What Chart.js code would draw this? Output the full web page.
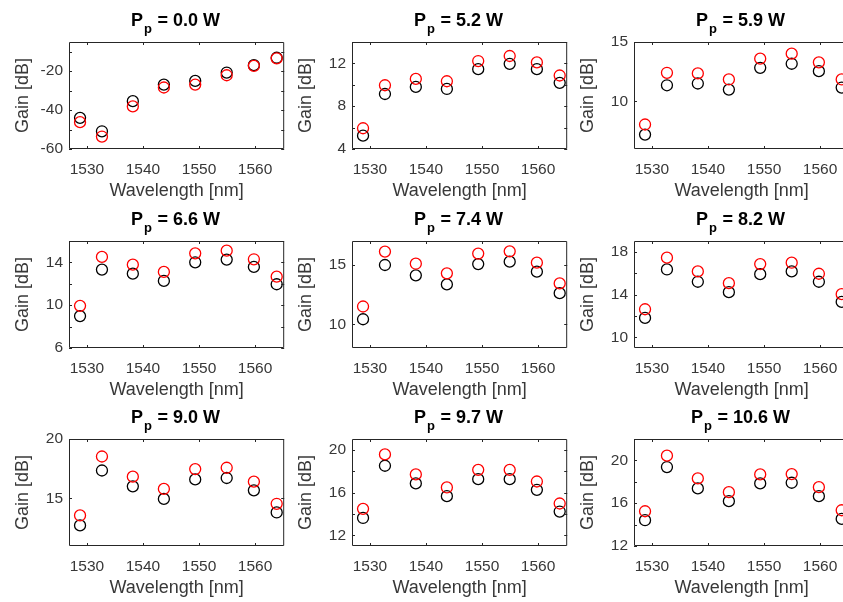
<!DOCTYPE html>
<html>
<head>
<meta charset="utf-8">
<script src="https://cdn.jsdelivr.net/npm/chart.js@4.4.1/dist/chart.umd.min.js"></script>
<style>
  html, body { margin: 0; padding: 0; background: #ffffff; }
  body { width: 843px; height: 602px; overflow: hidden; position: relative; }
  canvas { position: absolute; }
</style>
</head>
<body>
<script>
// ---------------- DATA ----------------
const wavelength = [1528.77, 1532.68, 1538.19, 1543.73, 1549.32, 1554.94, 1559.79, 1563.86];
const pumpPowers = ['0.0', '5.2', '5.9', '6.6', '7.4', '8.2', '9.0', '9.7', '10.6'];
const xTickValues = [1530, 1540, 1550, 1560];

const gainBlackP00 = [-44.0, -50.9, -35.4, -26.9, -25.0, -20.7, -16.9, -13.1];
const gainRedP00   = [-46.2, -53.6, -38.1, -28.4, -26.9, -22.1, -17.3, -13.4];
const gainBlackP52 = [5.25, 9.14, 9.80, 9.61, 11.46, 11.96, 11.46, 10.18];
const gainRedP52   = [5.94, 9.96, 10.55, 10.33, 12.22, 12.69, 12.09, 10.87];
const gainBlackP59 = [7.21, 11.36, 11.51, 11.00, 12.83, 13.17, 12.55, 11.17];
const gainRedP59   = [8.06, 12.41, 12.36, 11.85, 13.60, 14.02, 13.29, 11.85];
const gainBlackP66 = [8.98, 13.33, 12.95, 12.27, 14.01, 14.26, 13.58, 11.96];
const gainRedP66   = [9.94, 14.51, 13.79, 13.11, 14.85, 15.10, 14.29, 12.67];
const gainBlackP74 = [10.42, 14.98, 14.11, 13.35, 15.06, 15.26, 14.42, 12.61];
const gainRedP74   = [11.49, 16.11, 15.09, 14.28, 15.94, 16.13, 15.18, 13.43];
const gainBlackP82 = [11.81, 16.34, 15.19, 14.22, 15.90, 16.16, 15.19, 13.31];
const gainRedP82   = [12.62, 17.44, 16.16, 15.06, 16.84, 16.97, 15.94, 14.03];
const gainBlackP90 = [12.73, 17.35, 16.02, 14.96, 16.60, 16.72, 15.68, 13.82];
const gainRedP90   = [13.57, 18.53, 16.83, 15.80, 17.47, 17.58, 16.41, 14.55];
const gainBlackP97 = [13.62, 18.50, 16.85, 15.66, 17.25, 17.25, 16.25, 14.22];
const gainRedP97   = [14.47, 19.56, 17.69, 16.47, 18.12, 18.12, 17.03, 14.97];
const gainBlackP106 = [14.41, 19.38, 17.38, 16.19, 17.85, 17.91, 16.66, 14.53];
const gainRedP106   = [15.25, 20.44, 18.32, 17.03, 18.69, 18.72, 17.50, 15.34];

const blackSeries = [gainBlackP00, gainBlackP52, gainBlackP59, gainBlackP66, gainBlackP74, gainBlackP82, gainBlackP90, gainBlackP97, gainBlackP106];
const redSeries   = [gainRedP00, gainRedP52, gainRedP59, gainRedP66, gainRedP74, gainRedP82, gainRedP90, gainRedP97, gainRedP106];

const yMins = [-60, 4, 6, 6, 8, 9, 11, 11, 12];
const yMaxs = [-5, 14, 15, 16, 17, 19, 20, 21, 22];
const yTickValues = [
  [-60, -50, -40, -30, -20, -10],
  [4, 6, 8, 10, 12, 14],
  [10, 15],
  [6, 8, 10, 12, 14, 16],
  [10, 15],
  [10, 12, 14, 16, 18],
  [15, 20],
  [12, 14, 16, 18, 20],
  [12, 14, 16, 18, 20, 22]
];
const yTickLabels = [
  [-60, -40, -20],
  [4, 8, 12],
  [10, 15],
  [6, 10, 14],
  [10, 15],
  [10, 14, 18],
  [15, 20],
  [12, 16, 20],
  [12, 16, 20]
];
const xMin = 1526.8, xMax = 1565.2;
const xLabel = 'Wavelength [nm]';
const yLabel = 'Gain [dB]';

// ---------------- LAYOUT ----------------
const FONT = '"Liberation Sans", Arial, Helvetica, sans-serif';
const colLefts = [0, 283, 565];
const rowTops = [0, 199, 397];
const CW = 291, CH = 209;
const TEXT_COLOR = '#383838';
const AXIS_COLOR = '#262626';

const boxPlugin = {
  id: 'matlabBox',
  afterDatasetsDraw(chart) {
    const ctx = chart.ctx;
    const a = chart.chartArea;
    const xs = chart.scales.x, ys = chart.scales.y;
    ctx.save();
    ctx.strokeStyle = AXIS_COLOR;
    ctx.lineWidth = 1;
    ctx.beginPath();
    ctx.rect(a.left + 0.5, a.top + 0.5, a.right - a.left - 1, a.bottom - a.top - 1);
    ctx.stroke();
    const tl = 3;
    ctx.beginPath();
    xs.ticks.forEach(t => {
      const px = Math.round(xs.getPixelForValue(t.value)) + 0.5;
      ctx.moveTo(px, a.bottom); ctx.lineTo(px, a.bottom - tl);
      ctx.moveTo(px, a.top); ctx.lineTo(px, a.top + tl);
    });
    ys.ticks.forEach(t => {
      const py = Math.round(ys.getPixelForValue(t.value)) + 0.5;
      ctx.moveTo(a.left, py); ctx.lineTo(a.left + tl, py);
      ctx.moveTo(a.right, py); ctx.lineTo(a.right - tl, py);
    });
    ctx.stroke();
    ctx.restore();
  },
  afterDraw(chart) {
    const opts = chart.options.plugins.matlabBox;
    const ctx = chart.ctx;
    const a = chart.chartArea;
    const main = 'bold 18px ' + FONT;
    const sub = 'bold 13px ' + FONT;
    const t1 = 'P', t2 = 'p', t3 = ' = ' + opts.power + ' W';
    ctx.save();
    ctx.fillStyle = '#000000';
    ctx.textBaseline = 'alphabetic';
    ctx.textAlign = 'left';
    ctx.font = main;
    const w1 = ctx.measureText(t1).width;
    const w3 = ctx.measureText(t3).width;
    ctx.font = sub;
    const w2 = ctx.measureText(t2).width + 1.5;
    const total = w1 + w2 + w3;
    let x = (a.left + a.right) / 2 - total / 2 - 1;
    const base = 26;
    ctx.font = main;
    ctx.fillText(t1, x, base);
    x += w1 + 1;
    ctx.font = sub;
    ctx.fillText(t2, x, base + 7);
    x += w2 - 1;
    ctx.font = main;
    ctx.fillText(t3, x, base);
    ctx.restore();
  }
};

for (let i = 0; i < 9; i++) {
  const r = Math.floor(i / 3), c = i % 3;
  const cv = document.createElement('canvas');
  cv.width = CW; cv.height = CH;
  cv.style.left = colLefts[c] + 'px';
  cv.style.top = rowTops[r] + 'px';
  cv.style.width = CW + 'px';
  cv.style.height = CH + 'px';
  document.body.appendChild(cv);

  const toPts = arr => arr.map((g, k) => ({ x: wavelength[k], y: g }));

  new Chart(cv.getContext('2d'), {
    type: 'scatter',
    data: {
      datasets: [
        {
          label: 'red',
          data: toPts(redSeries[i]),
          borderColor: '#ff0000',
          backgroundColor: 'rgba(0,0,0,0)',
          pointStyle: 'circle',
          pointRadius: 5.5,
          pointBorderWidth: 1.3,
          pointHoverRadius: 5.5,
          showLine: false,
          order: 0
        },
        {
          label: 'black',
          data: toPts(blackSeries[i]),
          borderColor: '#000000',
          backgroundColor: 'rgba(0,0,0,0)',
          pointStyle: 'circle',
          pointRadius: 5.5,
          pointBorderWidth: 1.3,
          pointHoverRadius: 5.5,
          showLine: false,
          order: 1
        }
      ]
    },
    options: {
      responsive: false,
      animation: false,
      devicePixelRatio: 1,
      layout: { padding: { left: 0, right: 6, top: 42, bottom: 0 } },
      plugins: {
        legend: { display: false },
        tooltip: { enabled: false },
        title: { display: false },
        matlabBox: { power: pumpPowers[i] }
      },
      scales: {
        x: {
          type: 'linear',
          min: xMin, max: xMax,
          grid: { display: false, drawTicks: false },
          border: { display: false },
          afterBuildTicks: s => { s.ticks = xTickValues.map(v => ({ value: v })); },
          afterFit: s => { s.height = 60; },
          ticks: {
            autoSkip: false, maxRotation: 0, minRotation: 0,
            padding: 11,
            color: TEXT_COLOR,
            font: { family: FONT, size: 15.5 },
            callback: v => String(v)
          },
          title: {
            display: true, text: xLabel, color: TEXT_COLOR,
            font: { family: FONT, size: 18 },
            padding: { top: 0, bottom: 7 }
          }
        },
        y: {
          type: 'linear',
          min: yMins[i], max: yMaxs[i],
          grid: { display: false, drawTicks: false },
          border: { display: false },
          afterBuildTicks: s => { s.ticks = yTickValues[i].map(v => ({ value: v })); },
          afterFit: s => { s.width = 69; },
          ticks: {
            autoSkip: false,
            padding: 6,
            color: TEXT_COLOR,
            font: { family: FONT, size: 15.5 },
            callback: v => (yTickLabels[i].includes(v) ? String(v) : '')
          },
          title: {
            display: true, text: yLabel, color: TEXT_COLOR,
            font: { family: FONT, size: 18 },
            padding: { top: 12, bottom: 0 }
          }
        }
      }
    },
    plugins: [boxPlugin]
  });
}
</script>
</body>
</html>
